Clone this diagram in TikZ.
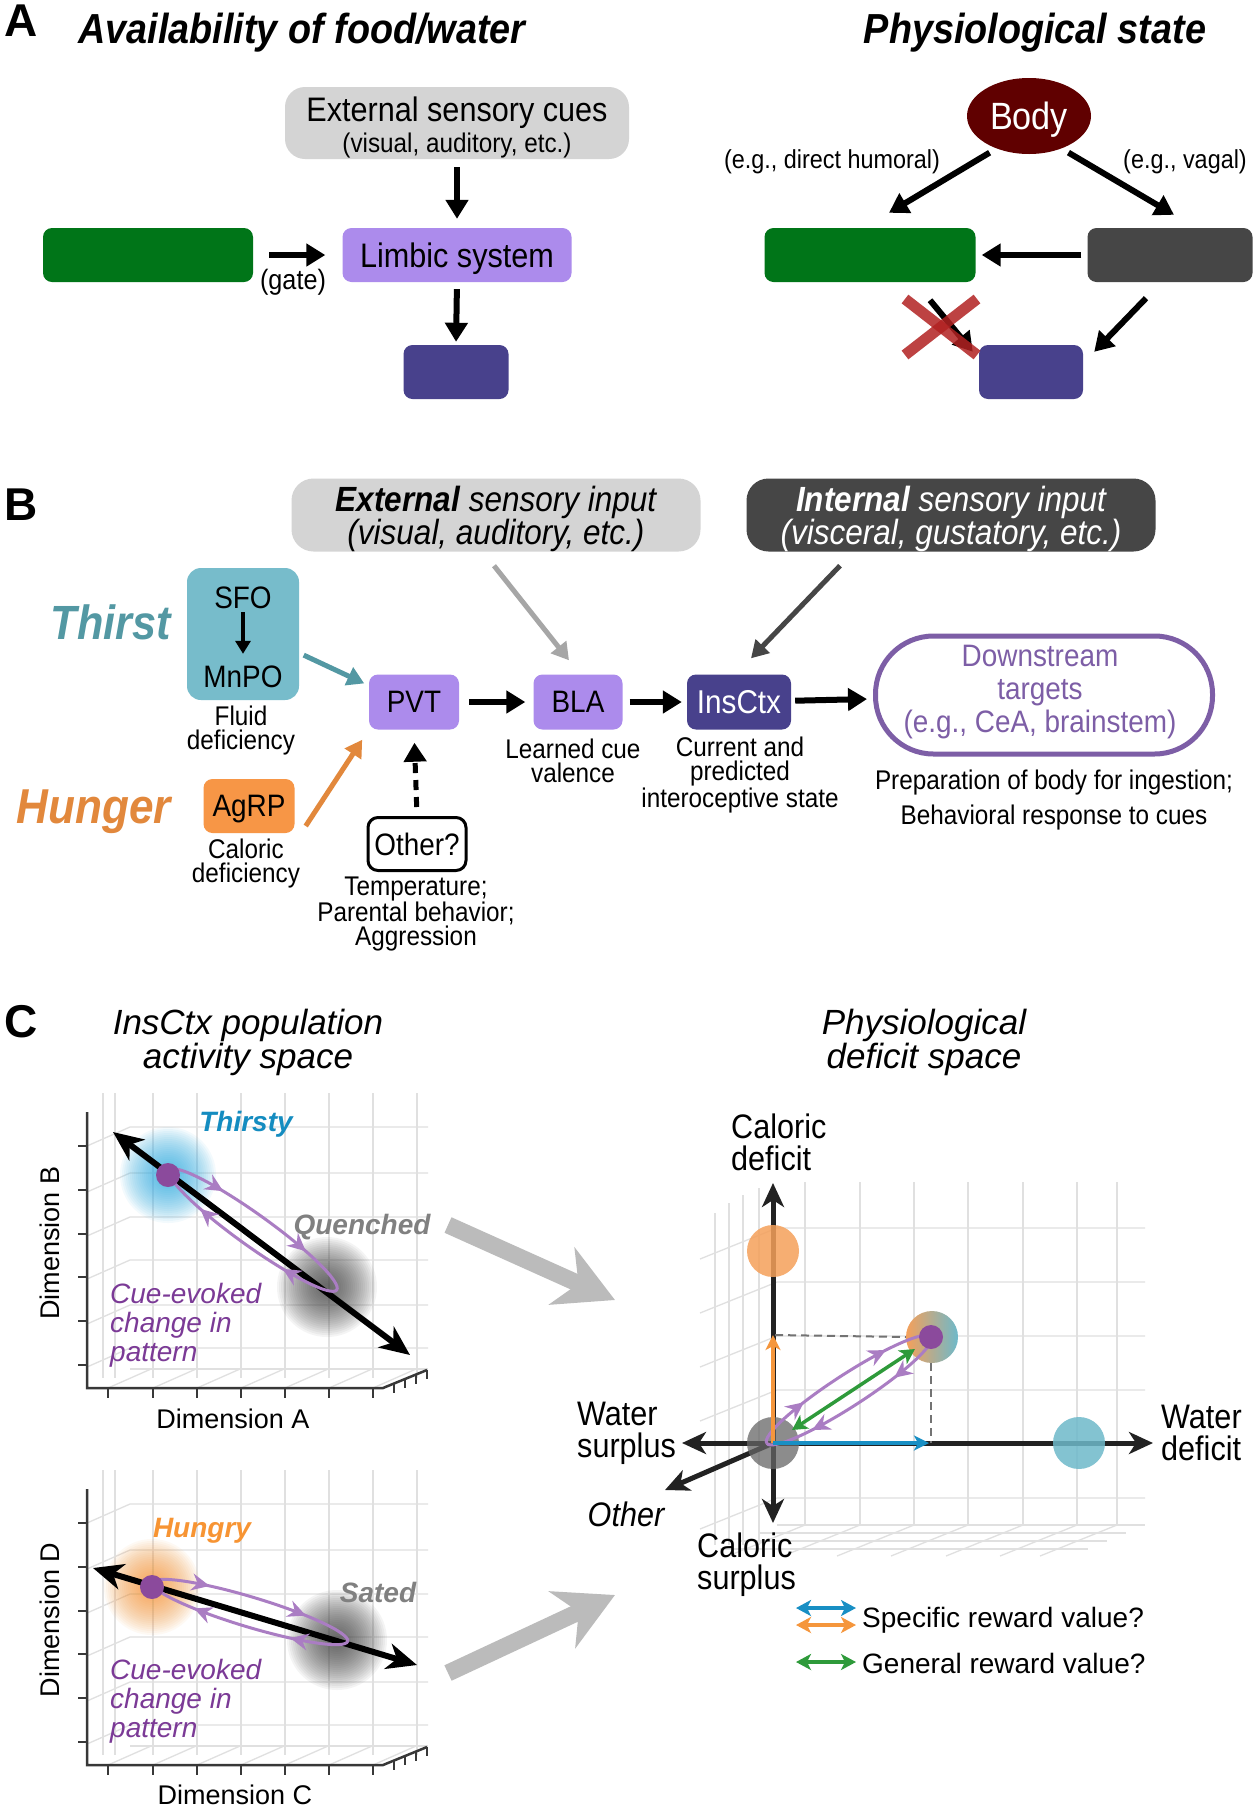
\documentclass[tikz,border=0pt]{standalone}
\usepackage{fontspec}
\setmainfont{Liberation Sans}
\newfontfamily\cond[FakeStretch=0.9]{Liberation Sans}
\usetikzlibrary{arrows.meta,shapes.geometric,decorations.markings}

\definecolor{foodgreen}{RGB}{0,117,24}
\definecolor{limbicpurple}{RGB}{172,139,236}
\definecolor{outblue}{RGB}{72,65,140}
\definecolor{cuegray}{RGB}{212,212,212}
\definecolor{visgray}{RGB}{70,70,70}
\definecolor{bodyred}{RGB}{96,0,0}
\definecolor{osmoblue}{RGB}{119,188,203}
\definecolor{thirstteal}{RGB}{83,152,163}
\definecolor{agrporange}{RGB}{247,150,70}
\definecolor{hungerorange}{RGB}{226,136,60}
\definecolor{downpurple}{RGB}{125,94,166}
\definecolor{thirstyblue}{RGB}{20,140,192}
\definecolor{glowblue}{RGB}{41,171,226}
\definecolor{gloworange}{RGB}{247,148,51}
\definecolor{cuepurple}{RGB}{123,58,150}
\definecolor{looppurple}{RGB}{170,125,195}
\definecolor{dotpurple}{RGB}{139,74,156}
\definecolor{xred}{RGB}{178,34,34}
\definecolor{bigarrow}{RGB}{187,187,187}
\definecolor{rewgreen}{RGB}{46,154,58}
\definecolor{rewblue}{RGB}{24,143,196}
\definecolor{reworange}{RGB}{245,150,60}
\definecolor{calorange}{RGB}{245,160,90}
\definecolor{waterteal}{RGB}{110,185,202}
\definecolor{axisdark}{RGB}{34,34,34}

\tikzset{
  panel/.style={inner sep=0pt, font=\fontsize{46}{46}\selectfont\bfseries},
  ptitle/.style={inner sep=0pt, font=\cond\fontsize{42}{42}\selectfont\bfseries\itshape},
  ctitle/.style={inner sep=0pt, align=center, font=\fontsize{35}{34}\selectfont\itshape},
  box/.style={rounded corners=9pt, inner sep=0pt, minimum height=54pt, font=\cond\fontsize{31}{31}\selectfont},
  lbl/.style={inner sep=0pt, align=center, font=\cond\fontsize{27}{24}\selectfont},
  arr/.style={line width=6pt, -{Triangle[length=19pt,width=22pt]}},
  thin arr/.style={line width=5pt, -{Triangle[length=17pt,width=19pt]}},
  xmark/.style={xred, opacity=.85, line width=11pt},
  gridline/.style={black!12, line width=1.3pt},
  axis/.style={black!78, line width=2.5pt},
  dimarr/.style={line width=6pt, {Stealth[length=30pt,width=26pt,inset=9pt]}-{Stealth[length=30pt,width=26pt,inset=9pt]}},
  dimlbl/.style={inner sep=0pt, font=\fontsize{27}{27}\selectfont},
  statelbl/.style={inner sep=0pt, font=\fontsize{28}{28}\selectfont\bfseries\itshape},
  cuelbl/.style={inner sep=0pt, align=left, text=cuepurple, font=\fontsize{28}{29}\selectfont\itshape},
  loopline/.style={color=looppurple, line width=3pt, postaction={decorate},
    decoration={markings,
      mark=at position 0.14 with {\arrow{Stealth[length=18pt,width=17pt,inset=6pt]}},
      mark=at position 0.38 with {\arrow{Stealth[length=18pt,width=17pt,inset=6pt]}},
      mark=at position 0.64 with {\arrow{Stealth[length=18pt,width=17pt,inset=6pt]}},
      mark=at position 0.88 with {\arrow{Stealth[length=18pt,width=17pt,inset=6pt]}}}},
  bigarr/.style={bigarrow, line width=17pt, -{Stealth[length=58pt,width=62pt,inset=18pt]}},
  defaxis/.style={axisdark, line width=5pt, -{Stealth[length=24pt,width=22pt,inset=7pt]}},
  deflbl/.style={inner sep=0pt, align=left, font=\cond\fontsize{34}{32}\selectfont},
  rew/.style={line width=3.5pt, -{Stealth[length=15pt,width=15pt,inset=4pt]}},
  rewboth/.style={line width=3.5pt, {Stealth[length=15pt,width=16pt,inset=4pt]}-{Stealth[length=15pt,width=16pt,inset=4pt]}},
  blob/.style={circle, inner sep=0pt, minimum size=52pt}
}

% faint 3D box of one activity plot (top plot coordinates)
\newcommand{\actgrid}{%
  \foreach \gx in {103,115,153,197,241,285,329,373,417}
    \draw[gridline] (\gx,1093) -- (\gx,1378);
  \foreach \gy in {1127,1173,1217,1260,1305,1348}
    \draw[gridline] (87,\gy+19) -- (130,\gy) -- (428,\gy);
  \draw[gridline] (130,1369) -- (428,1369);
  \foreach \gx in {108,153,197,241,285,329,373}
    \draw[gridline] (\gx,1388) -- (\gx+43,1369);
  \draw[axis] (87,1112) -- (87,1388) -- (383,1388) -- (427,1370);
  \foreach \gy in {1146,1190,1234,1277,1321,1365}
    \draw[axis] (78,\gy) -- (87,\gy);
  \foreach \gx in {108,153,197,241,285,329,373}
    \draw[axis] (\gx,1388) -- (\gx,1398);
  \foreach \gx/\gy in {394/1383.5,405/1379,416/1374.5,427/1370}
    \draw[axis] (\gx,\gy) -- (\gx,\gy+9);
}

% soft glow: many faint discs
\newcommand{\glow}[3]{%
  \foreach \r in {#3,...,4} \fill[#1, opacity=.055] #2 circle[radius=\r pt];
}

\begin{document}
\begin{tikzpicture}[x=1pt,y=-1pt]
\useasboundingbox[fill=white] (0,0) rectangle (1258,1810);

% ===== A =====
\node[panel] (pa) at (21,21) {A};
\node[ptitle] (ta1) at (302,33) {Availability of food/water};
\node[ptitle] (ta2) at (1035,33) {Physiological state};

\node[box, fill=cuegray, minimum width=344pt, minimum height=72pt, rounded corners=20pt] (extcue) at (457,123) {};
\node[inner sep=0pt, align=center, font=\cond\fontsize{27}{31}\selectfont] (extcuetxt) at (457,127)
  {\fontsize{34}{34}\selectfont External sensory cues\\(visual, auditory, etc.)};
\node[box, fill=foodgreen, minimum width=210pt] (gateL) at (148,255) {};
\node[box, fill=limbicpurple, minimum width=229pt] (limbic) at (457,255) {};
\node[inner sep=0pt, font=\cond\fontsize{34}{34}\selectfont] (limbictxt) at (457,259) {Limbic system};
\node[box, fill=outblue, minimum width=105pt] (outL) at (456,372) {};
\node[lbl, font=\cond\fontsize{28}{28}\selectfont] (gate) at (293,282) {(gate)};

\draw[arr, shorten <=8pt, shorten >=9pt] (extcue.south) -- (limbic.north);
\draw[arr, shorten <=16pt, shorten >=17pt] (gateL.east) -- (limbic.west);
\draw[arr, shorten <=7pt, shorten >=3pt] (limbic.south) -- (outL.north);

\node[ellipse, fill=bodyred, minimum width=124pt, minimum height=76pt, inner sep=0pt] (body) at (1029,116) {};
\node[inner sep=0pt, text=white, font=\cond\fontsize{38}{38}\selectfont] (bodytxt) at (1029,120) {Body};
\node[box, fill=foodgreen, minimum width=211pt] (gateR) at (870,255) {};
\node[box, fill=visgray, minimum width=165pt] (visc) at (1170,255) {};
\node[box, fill=outblue, minimum width=104pt] (outR) at (1031,372) {};
\node[lbl, font=\cond\fontsize{26}{26}\selectfont] (hum) at (832,162) {(e.g., direct humoral)};
\node[lbl, font=\cond\fontsize{26}{26}\selectfont] (vag) at (1185,162) {(e.g., vagal)};

\draw[arr, shorten <=8pt] (body.225) -- ([xshift=19pt,yshift=15pt]gateR.north);
\draw[arr, shorten <=8pt] (body.-45) -- ([xshift=4pt,yshift=13pt]visc.north);
\draw[arr, shorten <=6pt, shorten >=6pt] (visc.west) -- (gateR.east);
\draw[arr] ([xshift=60pt,yshift=-18pt]gateR.south) -- ([xshift=-6pt,yshift=-7pt]outR.north west);
\draw[arr] ([xshift=-24pt,yshift=-16pt]visc.south) -- ([xshift=11pt,yshift=-7pt]outR.north east);
\coordinate (cross) at (941,327);
\draw[xmark] (cross) ++(-36,-28) -- ++(72,56);
\draw[xmark] (cross) ++(36,-28) -- ++(-72,56);

% ===== B =====
\node[panel] (pb) at (21,505) {B};
\node[box, fill=cuegray, minimum width=409pt, minimum height=73pt, rounded corners=22pt] (extin) at (496,515) {};
\node[inner sep=0pt, align=center, font=\cond\itshape\fontsize{35}{32}\selectfont] (extintxt) at (496,519)
  {\textbf{External} sensory input\\(visual, auditory, etc.)};
\node[box, fill=visgray, minimum width=409pt, minimum height=73pt, rounded corners=22pt] (intin) at (951,515) {};
\node[inner sep=0pt, align=center, text=white, font=\cond\itshape\fontsize{35}{32}\selectfont] (intintxt) at (951,519)
  {\textbf{Internal} sensory input\\(visceral, gustatory, etc.)};

\node[anchor=east, inner sep=0pt, text=thirstteal, font=\cond\bfseries\itshape\fontsize{48}{48}\selectfont] (thirst) at (171,622) {Thirst};
\node[anchor=east, inner sep=0pt, text=hungerorange, font=\cond\bfseries\itshape\fontsize{49}{49}\selectfont] (hunger) at (171,812) {Hunger};

\node[box, fill=osmoblue, minimum width=112pt, minimum height=132pt, rounded corners=14pt] (osmo) at (243,634) {};
\node[inner sep=0pt, font=\cond\fontsize{31}{31}\selectfont] (sfo) at (243,598) {SFO};
\node[inner sep=0pt, font=\cond\fontsize{31}{31}\selectfont] (mnpo) at (243,677) {MnPO};
\draw[line width=4pt, -{Triangle[length=13pt,width=15pt]}, shorten <=3pt, shorten >=12pt] (sfo) -- (mnpo);
\node[lbl] (fluid) at (241,731) {Fluid\\deficiency};

\node[box, fill=limbicpurple, minimum width=90pt, minimum height=55pt] (pvt) at (414,702) {PVT};
\node[box, fill=agrporange, minimum width=91pt] (agrp) at (249,806) {};
\node[inner sep=0pt, font=\cond\fontsize{31}{31}\selectfont] (agrptxt) at (249,809) {AgRP};
\node[lbl] (calor) at (246,864) {Caloric\\deficiency};
\node[box, draw=black, line width=3pt, fill=white, minimum width=98pt, minimum height=53pt, rounded corners=10pt] (other) at (417,844) {Other?};
\node[lbl] (othertxt) at (416,914) {Temperature;\\Parental behavior;\\Aggression};
\node[box, fill=limbicpurple, minimum width=89pt, minimum height=55pt] (bla) at (578,702) {BLA};
\node[lbl] (blatxt) at (573,761) {Learned cue\\valence};
\node[box, fill=outblue, text=white, minimum width=104pt, minimum height=55pt, font=\cond\fontsize{33}{33}\selectfont] (insctx) at (739,702) {InsCtx};
\node[lbl] (instxt) at (740,775) {Current and\\predicted\\interoceptive state};
\node[draw=downpurple, line width=5pt, rounded corners=58pt, minimum width=337pt, minimum height=118pt, inner sep=0pt] (down) at (1044,695) {};
\node[inner sep=0pt, align=center, text=downpurple, font=\cond\fontsize{31}{33}\selectfont] (downin) at (1040,692) {Downstream\\targets\\(e.g., CeA, brainstem)};
\node[lbl, font=\cond\fontsize{27}{35}\selectfont] (downtxt) at (1054,800) {Preparation of body for ingestion;\\Behavioral response to cues};

\draw[thin arr, thirstteal, shorten <=5pt, shorten >=5pt] ([yshift=-19pt]osmo.east) -- (pvt.160);
\draw[thin arr, hungerorange, shorten >=12pt] ([xshift=11pt,yshift=-20pt]agrp.east) -- (pvt.south west);
\draw[line width=5pt, dash pattern=on 10pt off 7pt, -{Triangle[length=19pt,width=22pt]}, shorten <=9pt, shorten >=13pt] (other.north) -- (pvt.south);
\draw[thin arr, black!35] ([xshift=-2pt,yshift=-14pt]extin.south) -- ([xshift=-9pt,yshift=14pt]bla.north);
\draw[thin arr, visgray] ([xshift=-111pt,yshift=-14pt]intin.south) -- ([xshift=12pt,yshift=16pt]insctx.north);
\draw[arr, shorten <=10pt, shorten >=8pt] (pvt) -- (bla);
\draw[arr, shorten <=7pt, shorten >=5pt] (bla) -- (insctx);
\draw[arr, shorten <=4pt, shorten >=6pt] (insctx) -- (down);

% ===== C =====
\node[panel] (pc) at (21,1022) {C};
\node[ctitle] (tc1) at (248,1042) {InsCtx population\\activity space};
\node[ctitle] (tc2) at (924,1042) {Physiological\\deficit space};

% activity plot, thirst
\actgrid
\glow{glowblue}{(168,1175)}{48,46}
\glow{black!75}{(327,1287)}{50,48}
\draw[dimarr] (113,1132) -- (410,1355);
\begin{scope}[shift={(253,1230)}, rotate=-35.6]
  \draw[loopline] (-103,0) arc[start angle=180, end angle=540, x radius=103, y radius=16];
\end{scope}
\node[circle, fill=dotpurple, minimum size=24pt, inner sep=0pt] (thirstydot) at (168,1175) {};
\node[statelbl, text=thirstyblue] (thirsty) at (246,1124) {Thirsty};
\node[statelbl, text=black!50] (quenched) at (362,1227) {Quenched};
\node[cuelbl, anchor=west] (cueA) at (110,1325) {Cue-evoked\\change in\\pattern};
\node[dimlbl, rotate=90] (dimB) at (50,1243) {Dimension B};
\node[dimlbl] (dimA) at (233,1419) {Dimension A};

% activity plot, hunger
\begin{scope}[shift={(0,377)}]
  \actgrid
\end{scope}
\glow{gloworange}{(152,1587)}{48,46}
\glow{black!75}{(337,1640)}{50,48}
\draw[dimarr] (93,1568) -- (417,1665);
\begin{scope}[shift={(250,1612)}, rotate=-16.7]
  \draw[loopline] (-102,0) arc[start angle=180, end angle=540, x radius=102, y radius=15];
\end{scope}
\node[circle, fill=dotpurple, minimum size=24pt, inner sep=0pt] (hungrydot) at (152,1587) {};
\node[statelbl, text=gloworange] (hungry) at (202,1531) {Hungry};
\node[statelbl, text=black!50] (sated) at (378,1592) {Sated};
\node[cuelbl, anchor=west] (cueC) at (110,1701) {Cue-evoked\\change in\\pattern};
\node[dimlbl, rotate=90] (dimD) at (50,1620) {Dimension D};
\node[dimlbl] (dimC) at (235,1795) {Dimension C};

% big arrows into deficit space
\coordinate (fromthirst) at (448,1225);
\coordinate (tothirst) at (615,1300);
\coordinate (fromhunger) at (448,1673);
\coordinate (tohunger) at (615,1595);
\draw[bigarr] (fromthirst) -- (tothirst);
\draw[bigarr] (fromhunger) -- (tohunger);

% deficit space grid
\foreach \gx in {805,860,914,968,1023,1077,1117}
  \draw[gridline] (\gx,1182) -- (\gx,1525);
\foreach \gx/\gt in {715/1213,729/1203,743/1195,759/1188}
  \draw[gridline] (\gx,\gt) -- (\gx,1545);
\foreach \gy in {1228,1282,1336,1390,1444,1498}
  \draw[gridline] (700,\gy+31) -- (777,\gy) -- (1145,\gy);
\draw[gridline] (777,1525) -- (1145,1525);
\foreach \gx in {805,860,914,968,1023,1077,1117}
  \draw[gridline] (\gx,1525) -- (\gx-77,1556);
\foreach \k in {1,2,3}
  \draw[gridline] (777-19*\k,1525+8*\k) -- (1145-19*\k,1525+8*\k);

% deficit space axes and states
\node[blob] (origin) at (773,1443) {};
\coordinate (caltop) at (773,1183);
\coordinate (calbot) at (773,1523);
\coordinate (watleft) at (682,1443);
\coordinate (watright) at (1153,1443);
\coordinate (otherend) at (665,1490);
\draw[defaxis] (origin.center) -- (caltop);
\draw[defaxis] (origin.center) -- (calbot);
\draw[defaxis] (origin.center) -- (watleft);
\draw[defaxis] (origin.center) -- (watright);
\draw[defaxis] (origin.center) -- (otherend);
\node[blob, fill=black!60, opacity=.75] (neutral) at (773,1443) {};
\node[blob, fill=calorange, opacity=.85] (calstate) at (773,1251) {};
\node[blob, fill=waterteal, opacity=.85] (watstate) at (1079,1443) {};
\node[blob, left color=calorange, right color=waterteal] (mixed) at (932,1337) {};
\draw[black!55, line width=2pt, dash pattern=on 8pt off 5pt] (775,1335) -- (mixed.west);
\draw[black!55, line width=2pt, dash pattern=on 8pt off 5pt] (931,1363) -- (931,1443);
\begin{scope}[shift={(849,1390)}, rotate=32.9]
  \draw[loopline] (-98,0) arc[start angle=180, end angle=540, x radius=98, y radius=16];
\end{scope}
\node[circle, fill=dotpurple, minimum size=24pt, inner sep=0pt] (bothdot) at (931,1337) {};
\draw[rew, reworange] (origin.center) -- (773,1335);
\draw[rew, rewblue] (origin.center) -- (929,1443);
\draw[rewboth, rewgreen] (792,1430) -- (915,1349);

\node[deflbl, anchor=west] (caldef) at (731,1142) {Caloric\\deficit};
\node[deflbl, anchor=west] (watsur) at (577,1433) {Water\\surplus};
\node[deflbl, anchor=west] (watdef) at (1161,1433) {Water\\deficit};
\node[deflbl, font=\cond\itshape\fontsize{34}{34}\selectfont] (otherlbl) at (626,1514) {Other};
\node[deflbl, anchor=west] (calsur) at (697,1565) {Caloric\\surplus};

% legend
\draw[rewboth, line width=4pt, rewblue] (796,1608) -- (856,1608);
\draw[rewboth, line width=4pt, reworange] (796,1625) -- (856,1625);
\draw[rewboth, line width=4pt, rewgreen] (796,1662) -- (856,1662);
\node[anchor=west, inner sep=0pt, font=\fontsize{28}{28}\selectfont] (specific) at (862,1620) {Specific reward value?};
\node[anchor=west, inner sep=0pt, font=\fontsize{28}{28}\selectfont] (general) at (862,1663) {General reward value?};
\end{tikzpicture}
\end{document}
